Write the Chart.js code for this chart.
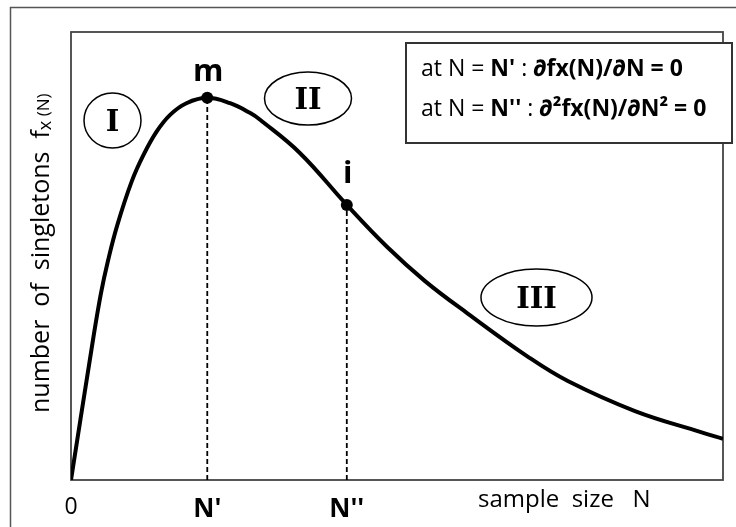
<!DOCTYPE html>
<html>
<head>
<meta charset="utf-8">
<script src="https://cdn.jsdelivr.net/npm/chart.js@4.4.1/dist/chart.umd.min.js"></script>
<style>
  html, body { margin: 0; padding: 0; background: #fff; }
</style>
</head>
<body>
<canvas id="chSingletons" width="736" height="527"></canvas>
<script>
// ============ 数据 ============
// 样本量 N（横轴，任意单位 0~100）
const sampleSize = [0, 3.3, 4.6, 5.7, 7.1, 9.3, 11.1, 13.1, 15.2, 17.7, 20.9, 24.4, 27.5, 29.0, 35.1, 42.3, 48.5, 54.3, 60.9, 70.1, 76.2, 86.5, 96.6, 100];
// 单例数 fx(N)（纵轴，任意单位 0~100）
const singletons = [0, 30.6, 41.7, 49.1, 56.9, 66.6, 72.5, 77.7, 81.5, 84.1, 85.3, 84.1, 81.9, 80.4, 73.0, 61.4, 52.0, 44.4, 37.1, 27.5, 22.1, 15.4, 10.7, 9.2];

// 特殊点：m = 极大值 (N')，i = 拐点 (N'')
const markNames = ['m', 'i'];
const markN = [20.9, 42.3];
const markF = [85.3, 61.4];

// 横轴刻度
const tickValues = [0, 20.9, 42.3];
const tickLabels = ['0', "N'", "N''"];

// 区域编号
const regionNames = ['I', 'II', 'III'];

// 说明框文字：[文字, 是否加粗]
const legendLine1 = [['at N = ', false], ["N'", true], [' : ', false], ['\u2202fx(N)/\u2202N = 0', true]];
const legendLine2 = [['at N = ', false], ["N''", true], [' : ', false], ['\u2202\u00B2fx(N)/\u2202N\u00B2 = 0', true]];

// 纵轴标题：[文字, 字号, 基线偏移]
const yTitle = [['number  of  singletons  f', 25, 0], ['x', 18, 2], [' (N)', 17, 0]];
const xTitle = 'sample  size   N';

const FONT = '"Open Sans", "DejaVu Sans", sans-serif';
const SERIF = '"DejaVu Serif", serif';

// 画一行混排文字，返回结束 x
function drawRuns(ctx, runs, x, y, size) {
  runs.forEach(([t, bold]) => {
    ctx.font = (bold ? 'bold ' : '') + size + 'px ' + FONT;
    ctx.fillText(t, x, y);
    x += ctx.measureText(t).width;
  });
  return x;
}

// ============ 插件：边框 / 注释 ============
const framePlugin = {
  id: 'frame',
  beforeDatasetsDraw(chart) {
    const { ctx, chartArea: a } = chart;
    ctx.save();
    // 外框（仅左、上可见）
    ctx.strokeStyle = '#555';
    ctx.lineWidth = 1.5;
    ctx.strokeRect(10.5, 7.5, 760, 560);
    // 绘图区边框
    ctx.strokeStyle = '#444';
    ctx.lineWidth = 1.8;
    ctx.strokeRect(a.left, a.top, a.right - a.left, a.bottom - a.top);
    ctx.restore();
  },
  afterDatasetsDraw(chart) {
    const { ctx } = chart;
    const sx = chart.scales.x, sy = chart.scales.y;
    ctx.save();
    ctx.fillStyle = '#000';

    // m / i 标记
    ctx.font = 'bold 31px ' + FONT;
    ctx.textAlign = 'center';
    ctx.textBaseline = 'alphabetic';
    markNames.forEach((n, i) => {
      const px = sx.getPixelForValue(markN[i]);
      const py = sy.getPixelForValue(markF[i]);
      ctx.fillText(n, px + 1, py - (n === 'm' ? 17 : 22));
    });

    // 区域椭圆
    const ells = [
      { cx: 112.5, cy: 120.5, rx: 28.5, ry: 27.5 },
      { cx: 308, cy: 98.5, rx: 43.5, ry: 26.5 },
      { cx: 536.5, cy: 297.5, rx: 55.5, ry: 28.5 },
    ];
    ctx.lineWidth = 1.5;
    ctx.strokeStyle = '#000';
    ells.forEach((e, i) => {
      ctx.beginPath();
      ctx.ellipse(e.cx, e.cy, e.rx, e.ry, 0, 0, Math.PI * 2);
      ctx.stroke();
      ctx.font = 'bold 29px ' + SERIF;
      ctx.fillText(regionNames[i], e.cx, e.cy + 10.5);
    });

    // 说明框
    ctx.fillStyle = '#fff';
    ctx.fillRect(406, 43, 326, 100);
    ctx.strokeStyle = '#333';
    ctx.lineWidth = 2;
    ctx.strokeRect(406, 43, 326, 100);
    ctx.fillStyle = '#000';
    ctx.textAlign = 'left';
    drawRuns(ctx, legendLine1, 421, 76, 23);
    drawRuns(ctx, legendLine2, 421, 116, 23);

    // 纵轴标题（旋转）
    ctx.save();
    ctx.translate(49, 413);
    ctx.rotate(-Math.PI / 2);
    let x = 0;
    yTitle.forEach(([t, size, dy]) => {
      ctx.font = size + 'px ' + FONT;
      ctx.fillText(t, x, dy);
      x += ctx.measureText(t).width;
    });
    ctx.restore();

    // 横轴标题
    ctx.font = '24px ' + FONT;
    ctx.fillText(xTitle, 478, 507);
    ctx.restore();
  }
};

// ============ 图表 ============
const curveData = sampleSize.map((x, i) => ({ x, y: singletons[i] }));
const markData = markN.map((x, i) => ({ x, y: markF[i] }));
const dropLines = markN.map((x, i) => ({
  data: [{ x, y: 0 }, { x, y: markF[i] }],
  borderColor: '#000', borderWidth: 1.8, borderDash: [5, 3], pointRadius: 0, fill: false
}));

new Chart(document.getElementById('chSingletons'), {
  type: 'line',
  data: {
    datasets: [
      ...dropLines,
      { data: curveData, borderColor: '#000', borderWidth: 4, pointRadius: 0, tension: 0.4, fill: false },
      { data: markData, showLine: false, pointRadius: 6, pointBackgroundColor: '#000', pointBorderWidth: 0 }
    ]
  },
  options: {
    responsive: false, animation: false, devicePixelRatio: 1,
    layout: { padding: { top: 32, right: 13, left: 0, bottom: 0 } },
    plugins: { legend: { display: false }, tooltip: { enabled: false } },
    scales: {
      x: {
        type: 'linear', min: 0, max: 100,
        grid: { display: false, drawTicks: false },
        border: { display: false },
        afterBuildTicks: s => { s.ticks = tickValues.map(v => ({ value: v })); },
        afterFit: s => { s.height = 47; },
        ticks: {
          autoSkip: false, maxRotation: 0, padding: 14, color: '#000',
          callback: (v, i) => tickLabels[i],
          font: c => ({ family: FONT, size: c.index === 0 ? 23 : 26, weight: c.index === 0 ? 'normal' : 'bold' })
        }
      },
      y: {
        min: 0, max: 100,
        grid: { display: false, drawTicks: false },
        border: { display: false },
        ticks: { display: false },
        afterFit: s => { s.width = 71; }
      }
    }
  },
  plugins: [framePlugin]
});
</script>
</body>
</html>
